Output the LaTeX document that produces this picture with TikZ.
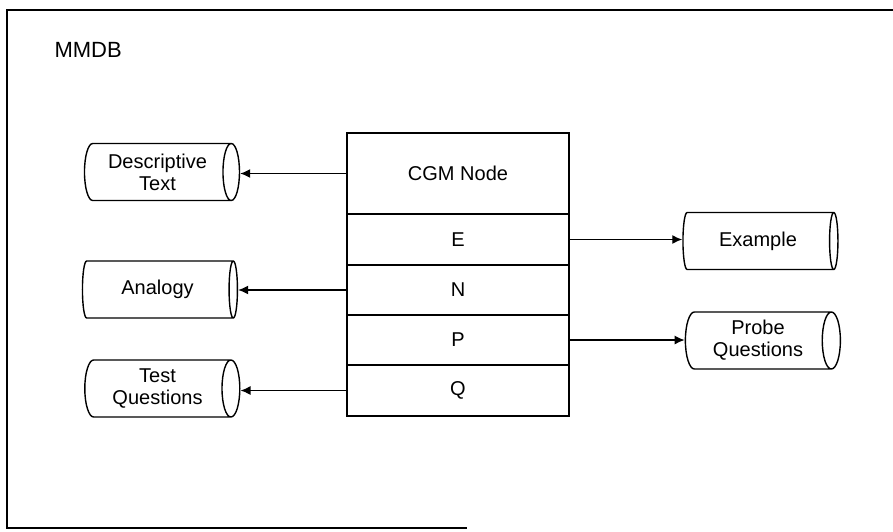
\documentclass[tikz,border=0pt]{standalone}
\usepackage{fontspec}
\setmainfont{Liberation Sans}
\usetikzlibrary{shapes.geometric,arrows.meta}
\begin{document}
\begin{tikzpicture}[x=1pt,y=-1pt,
  lbl/.style={font=\fontsize{20}{22}\selectfont},
  row/.style={draw, line width=1.4pt, minimum width=222pt, inner sep=0pt, lbl},
  store/.style={cylinder, draw, line width=1.4pt, minimum height=155pt, minimum width=57pt,
    aspect=0.45, inner sep=0pt, align=center, lbl},
  link/.style={line width=1.4pt, -{Latex[length=10pt,width=9pt]}}]
\useasboundingbox (0,0) rectangle (893,531);
% frame
\draw[line width=1.3pt] (893,10) -- (7,10) -- (7,528) -- (467,528);
\node[anchor=west, font=\fontsize{22}{24}\selectfont] (mmdb) at (51,50) {MMDB};
% CGM node record
\node[row, minimum height=81pt] (cgm) at (458,173.5) {CGM Node};
\node[row, minimum height=51pt] (e) at (458,239.5) {E};
\node[row, minimum height=50pt] (n) at (458,290) {N};
\node[row, minimum height=50pt] (p) at (458,340) {P};
\node[row, minimum height=51pt] (q) at (458,390.5) {Q};
% stores
\node[store] (desc) at (157.5,172) {Descriptive\\Text};
\node[store] (anal) at (157.5,289.5) {Analogy};
\node[store] (test) at (157.5,388.5) {Test\\Questions};
\node[store] (ex) at (758,241) {Example};
\node[store] (probe) at (758,340.5) {Probe\\Questions};
% connectors
\draw[link] (cgm.west) -- (cgm.west -| desc.east);
\draw[link] (n.west) -- (n.west -| anal.east);
\draw[link] (q.west) -- (q.west -| test.east);
\draw[link] (e.east) -- (e.east -| ex.west);
\draw[link] (p.east) -- (p.east -| probe.west);
\end{tikzpicture}
\end{document}
